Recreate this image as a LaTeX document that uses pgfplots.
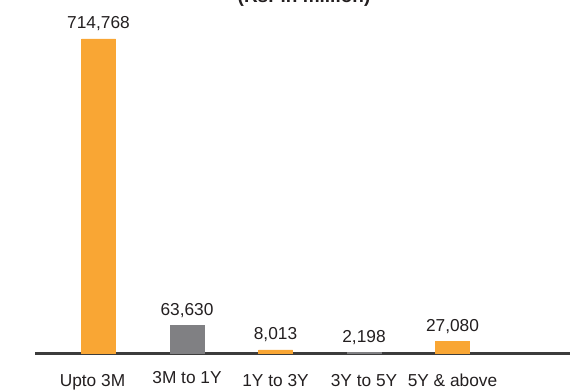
\documentclass[border=0pt]{standalone}
\usepackage{pgfplots}
\pgfplotsset{compat=1.18}
\usepackage{fontspec}
\setmainfont{Liberation Sans}
\definecolor{barorange}{HTML}{F9A634}
\definecolor{bargray}{HTML}{808083}
\definecolor{axisgray}{HTML}{3C3C3C}
\definecolor{txt}{HTML}{231F20}
\begin{document}
\begin{tikzpicture}[x=1pt,y=1pt]
\begin{axis}[
  at={(35pt,36.5pt)}, anchor=south west,
  scale only axis, width=535pt, height=314.5pt,
  xmin=-0.7175, xmax=5.3277,
  ymin=0, ymax=714768,
  clip=false,
  axis y line=none,
  axis x line*=bottom,
  x axis line style={-, line width=2.4pt, color=axisgray},
  major tick length=0pt,
  xtick={0,1,2,3,4},
  xticklabels={\hspace*{-12pt}Upto 3M,\raisebox{3pt}{3M to 1Y},1Y to 3Y,3Y to 5Y,5Y \& above},
  xticklabel style={anchor=base, yshift=-33.5pt, font=\fontsize{17.3}{19}\selectfont, text=txt},
  ybar, bar width=34pt, bar shift=0pt,
  nodes near coords,
  every node near coord/.append style={anchor=base, yshift=10pt, font=\fontsize{17.3}{19}\selectfont, text=txt, inner sep=0pt},
  /pgf/number format/.cd, fixed, precision=0, 1000 sep={,}, assume math mode=true,
]
\addplot[fill=barorange, draw=barorange, line width=0.5pt] coordinates {(0,714768) (2,8013) (4,27080)};
\addplot[fill=bargray, draw=bargray, line width=0.5pt] coordinates {(1,63630) (3,2198)};
\end{axis}
\node[anchor=base, font=\bfseries\fontsize{19}{21}\selectfont, text=txt] at (304pt,387.3pt) {(Rs. in million)};
\pgfresetboundingbox
\useasboundingbox (0,0) rectangle (570pt,390pt);
\end{tikzpicture}
\end{document}
